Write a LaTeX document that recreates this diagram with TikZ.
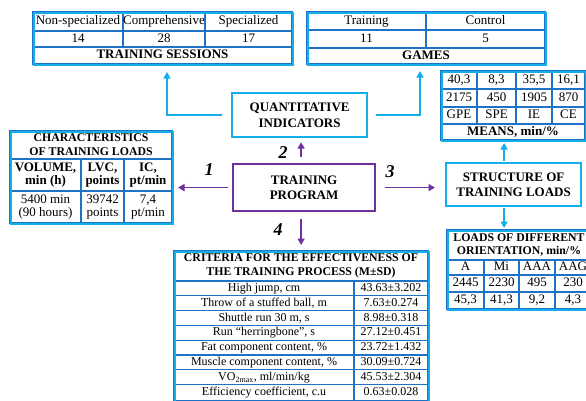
\documentclass[tikz,border=0pt]{standalone}
\usepackage{fontspec}
\setmainfont{Liberation Serif}
\usetikzlibrary{arrows.meta}
\definecolor{tblue}{RGB}{30,115,200}
\definecolor{cyanc}{RGB}{20,175,235}
\definecolor{purp}{RGB}{112,48,160}
\tikzset{
 tline/.style={draw=tblue, line width=1.2pt},
 touter/.style={draw=cyanc, line width=2pt, inner sep=0pt, anchor=north west},
 ctext/.style={inner sep=0pt, align=center, font=\fontsize{13}{13.8}\selectfont},
 onel/.style={text height=8.6pt, text depth=2.6pt},
 box/.style={draw=cyanc, line width=2.2pt, inner sep=0pt, anchor=north west, align=center, font=\fontsize{13}{15.5}\selectfont\bfseries},
 pbox/.style={box, draw=purp},
 carr/.style={draw=cyanc, line width=1.6pt, -{Triangle[width=7pt,length=6.5pt]}},
 parr/.style={draw=purp, line width=1.6pt, -{Triangle[width=7pt,length=6.5pt]}},
 num/.style={font=\fontsize{18}{18}\selectfont\bfseries\itshape, inner sep=0pt},
}
\newcommand\tcell[6]{\draw[tline] (#2,#3) rectangle (#4,#5); \node[ctext,onel] (#1) at ({(#2+#4)/2},{(#3+#5)/2}) {#6};}
\newcommand\mcell[6]{\draw[tline] (#2,#3) rectangle (#4,#5); \node[ctext] (#1) at ({(#2+#4)/2},{(#3+#5)/2}) {#6};}
\newcommand\hsm{\fontsize{11.8}{13.2}\selectfont\bfseries}
\newcommand\ssm{\fontsize{12}{13}\selectfont}
\begin{document}
\begin{tikzpicture}[x=1pt,y=-1pt]
\useasboundingbox (0,0) rectangle (586,400);
\clip (0,0) rectangle (586,400);
% ---- training sessions
\tcell{s1}{33}{12}{123}{31}{Non-specialized}
\tcell{s2}{123}{12}{205}{31}{Comprehensive}
\tcell{s3}{205}{12}{292}{31}{Specialized}
\tcell{s4}{33}{31}{123}{47}{14}
\tcell{s5}{123}{31}{205}{47}{28}
\tcell{s6}{205}{31}{292}{47}{17}
\tcell{s7}{33}{47}{292}{64}{\bfseries TRAINING SESSIONS}
\node[touter, minimum width=259pt, minimum height=52pt] (sess) at (33,12) {};
% ---- games
\tcell{g1}{307}{12}{426}{30}{Training}
\tcell{g2}{426}{12}{545}{30}{Control}
\tcell{g3}{307}{30}{426}{48}{11}
\tcell{g4}{426}{30}{545}{48}{5}
\tcell{g5}{307}{48}{545}{64}{\bfseries GAMES}
\node[touter, minimum width=238pt, minimum height=52pt] (games) at (307,12) {};
% ---- means
\tcell{m1}{441}{71}{477}{89}{40,3}
\tcell{m2}{477}{71}{516}{89}{8,3}
\tcell{m3}{516}{71}{552}{89}{35,5}
\tcell{m4}{552}{71}{585}{89}{16,1}
\tcell{m5}{441}{89}{477}{107}{2175}
\tcell{m6}{477}{89}{516}{107}{450}
\tcell{m7}{516}{89}{552}{107}{1905}
\tcell{m8}{552}{89}{585}{107}{870}
\tcell{m9}{441}{107}{477}{124}{GPE}
\tcell{m10}{477}{107}{516}{124}{SPE}
\tcell{m11}{516}{107}{552}{124}{IE}
\tcell{m12}{552}{107}{585}{124}{CE}
\tcell{m13}{441}{124}{585}{140}{\bfseries MEANS, min/\%}
\node[touter, minimum width=144pt, minimum height=69pt] (means) at (441,71) {};
% ---- characteristics
\mcell{c0}{10}{131}{172}{159}{\hsm CHARACTERISTICS\\\hsm OF TRAINING LOADS}
\mcell{c1}{10}{159}{81}{191}{\bfseries VOLUME,\\\bfseries min (h)}
\mcell{c2}{81}{159}{124}{191}{\bfseries LVC,\\\bfseries points}
\mcell{c3}{124}{159}{172}{191}{\bfseries IC,\\\bfseries pt/min}
\mcell{c4}{10}{191}{81}{223}{5400 min\\(90 hours)}
\mcell{c5}{81}{191}{124}{223}{39742\\points}
\mcell{c6}{124}{191}{172}{223}{7,4\\pt/min}
\node[touter, minimum width=162pt, minimum height=92pt] (chars) at (10,131) {};
% ---- loads
\mcell{l0}{447}{230}{591}{260}{\hsm LOADS OF DIFFERENT\\\hsm ORIENTATION, min/\%}
\tcell{l1}{447}{260}{484}{275}{A}
\tcell{l2}{484}{260}{519}{275}{Mi}
\tcell{l3}{519}{260}{555}{275}{AAA}
\tcell{l4}{555}{260}{591}{275}{AAG}
\tcell{l5}{447}{275}{484}{292}{2445}
\tcell{l6}{484}{275}{519}{292}{2230}
\tcell{l7}{519}{275}{555}{292}{495}
\tcell{l8}{555}{275}{591}{292}{230}
\tcell{l9}{447}{292}{484}{309}{45,3}
\tcell{l10}{484}{292}{519}{309}{41,3}
\tcell{l11}{519}{292}{555}{309}{9,2}
\tcell{l12}{555}{292}{591}{309}{4,3}
\node[touter, minimum width=144pt, minimum height=79pt] (loads) at (447,230) {};
% ---- criteria
\mcell{k0}{174}{251}{428}{281}{\hsm CRITERIA FOR THE EFFECTIVENESS OF\\\hsm THE TRAINING PROCESS (M±SD)}
\tcell{k1a}{174}{281}{354}{295.8}{\ssm High jump, cm}
\tcell{k1b}{354}{281}{428}{295.8}{\ssm 43.63±3.202}
\tcell{k2a}{174}{295.8}{354}{310.6}{\ssm Throw of a stuffed ball, m}
\tcell{k2b}{354}{295.8}{428}{310.6}{\ssm 7.63±0.274}
\tcell{k3a}{174}{310.6}{354}{325.4}{\ssm Shuttle run 30 m, s}
\tcell{k3b}{354}{310.6}{428}{325.4}{\ssm 8.98±0.318}
\tcell{k4a}{174}{325.4}{354}{340.2}{\ssm Run “herringbone”, s}
\tcell{k4b}{354}{325.4}{428}{340.2}{\ssm 27.12±0.451}
\tcell{k5a}{174}{340.2}{354}{355}{\ssm Fat component content, \%}
\tcell{k5b}{354}{340.2}{428}{355}{\ssm 23.72±1.432}
\tcell{k6a}{174}{355}{354}{369.8}{\ssm Muscle component content, \%}
\tcell{k6b}{354}{355}{428}{369.8}{\ssm 30.09±0.724}
\tcell{k7a}{174}{369.8}{354}{384.6}{\ssm VO\textsubscript{2max}, ml/min/kg}
\tcell{k7b}{354}{369.8}{428}{384.6}{\ssm 45.53±2.304}
\tcell{k8a}{174}{384.6}{354}{400.5}{\ssm Efficiency coefficient, c.u}
\tcell{k8b}{354}{384.6}{428}{400.5}{\ssm 0.63±0.028}
\node[touter, minimum width=254pt, minimum height=149.5pt] (crit) at (174,251) {};
% ---- boxes
\node[box, minimum width=135pt, minimum height=44pt] (quant) at (231,92) {QUANTITATIVE\\INDICATORS};
\node[pbox, minimum width=142pt, minimum height=47pt] (prog) at (232,163) {TRAINING\\PROGRAM};
\node[box, minimum width=135pt, minimum height=43pt] (struct) at (445,162) {STRUCTURE OF\\TRAINING LOADS};
% ---- cyan connectors
\draw[carr, shorten <=9pt, shorten >=6pt] (quant.west) -| ([xshift=3.5pt]sess.south);
\draw[carr, shorten <=8pt, shorten >=5pt] (quant.east) -| ([xshift=-7pt]games.south);
\draw[carr, shorten <=1pt, shorten >=1pt] ([xshift=-9.5pt]struct.north) -- ([xshift=-9.5pt]struct.north |- means.south);
\draw[carr, shorten <=1pt, shorten >=2pt] ([xshift=-9.5pt]struct.south) -- ([xshift=-9.5pt]struct.south |- loads.north);
% ---- purple connectors
\draw[parr, shorten <=4pt, shorten >=4pt] (prog.west) -- (prog.west -| chars.east);
\draw[parr, shorten <=6pt, shorten >=4pt] ([xshift=-3pt]prog.north) -- ([xshift=-3pt]prog.north |- quant.south);
\draw[parr, shorten <=9pt, shorten >=10pt] (prog.east) -- (prog.east -| struct.west);
\draw[parr, shorten <=7pt, shorten >=6pt] ([xshift=-3pt]prog.south) -- ([xshift=-3pt]prog.south |- crit.north);
% ---- numbers
\node[num] (n1) at (209,170) {1};
\node[num] (n2) at (283,153) {2};
\node[num] (n3) at (390,172) {3};
\node[num] (n4) at (278,230) {4};
\end{tikzpicture}
\end{document}
